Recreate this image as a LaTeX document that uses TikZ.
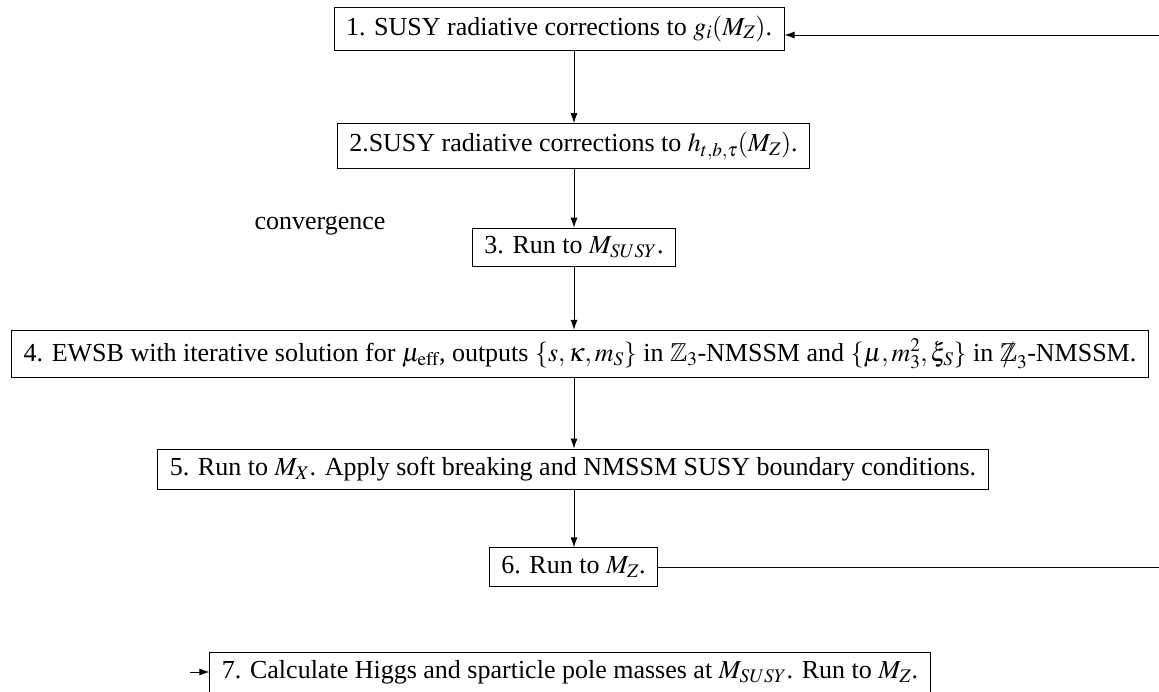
\documentclass[tikz,border=0pt]{standalone}
\usepackage{amssymb}
\usepackage{mathptmx}
\usepackage[no-math]{fontspec}
\setmainfont{Liberation Serif}
\usetikzlibrary{arrows.meta}
\newcommand{\zslashed}{\mbox{\ooalign{$\mathbb{Z}$\cr\hidewidth$/$\hidewidth\cr}}}
\tikzset{
  stepbox/.style={draw, line width=1pt, inner xsep=12pt, inner ysep=8.5pt},
  arr/.style={line width=1pt, -{Latex[length=10pt,width=7pt]}},
  plain/.style={line width=1pt}
}
\begin{document}
\begin{tikzpicture}[x=1pt,y=-1pt,font=\fontsize{26}{31}\selectfont]
\useasboundingbox (0,0) rectangle (1159,691);
\node[stepbox] (n1) at (559,28.5) {1. SUSY radiative corrections to $g_i(M_Z)$.};
\node[stepbox] (n2) at (573.5,146) {2.SUSY radiative corrections to $h_{t,b,\tau}(M_Z)$.};
\node[stepbox] (n3) at (574,247.5) {3. Run to $M_{SUSY}$.};
\node (conv) at (320,226) {convergence};
\node[stepbox] (n4) at (580,354) {4. EWSB with iterative solution for $\mu_{\mathrm{eff}}$, outputs $\{s,\kappa,m_S\}$ in $\mathbb{Z}_3$-NMSSM and $\{\mu,m_3^2,\xi_S\}$ in $\zslashed_3$-NMSSM.};
\node[stepbox] (n5) at (573,469.5) {5. Run to $M_X$. Apply soft breaking and NMSSM SUSY boundary conditions.};
\node[stepbox] (n6) at (573.5,567) {6. Run to $M_Z$.};
\node[stepbox] (n7) at (570,672.5) {7. Calculate Higgs and sparticle pole masses at $M_{SUSY}$. Run to $M_Z$.};
\coordinate (ax) at (574,0);
\coordinate (r1) at (1159,35);
\coordinate (r6) at (1159,567);
\coordinate (l7) at (190,672);
\draw[arr] (n1.south -| ax) -- (n2.north -| ax);
\draw[arr] (n2.south -| ax) -- (n3.north -| ax);
\draw[arr] (n3.south -| ax) -- (n4.north -| ax);
\draw[arr] (n4.south -| ax) -- (n5.north -| ax);
\draw[arr] (n5.south -| ax) -- (n6.north -| ax);
\draw[arr] (r1) -- (r1 -| n1.east);
\draw[plain] (n6.east) -- (r6);
\draw[arr] (l7) -- (l7 -| n7.west);
\end{tikzpicture}
\end{document}
